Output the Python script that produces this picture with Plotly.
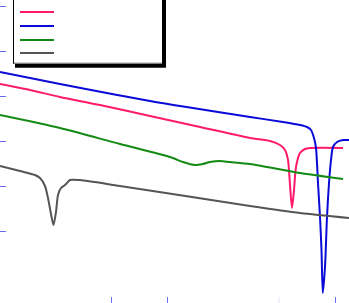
import plotly.graph_objects as go

# Data (x in plot units, y in plot units, up = higher)
pink_x = [0, 30, 60, 100, 150, 200, 250, 270, 280, 285, 288, 290, 292, 294, 296, 300, 305, 310, 343]
pink_y = [219, 213, 206, 198, 187, 176, 165, 162, 158, 153, 143, 118, 95, 113, 136, 150, 154, 155, 155]

blue_x = [0, 60, 150, 250, 283, 300, 307, 311, 314, 316, 318, 320, 321.5, 322.8, 325, 327, 329, 331, 333, 337, 343, 349]
blue_y = [231, 219, 202, 186, 181, 178, 176, 173, 165, 155, 120, 86, 53, 10, 36, 86, 120, 143, 156, 161, 163, 163]

green_x = [0, 60, 120, 170, 183, 195, 203, 210, 220, 230, 250, 300, 343]
green_y = [188, 175, 159, 146, 141, 138, 139, 141, 142, 141, 139, 130, 124]

gray_x = [0, 20, 35, 40, 45, 48, 51, 53.5, 56, 58, 61, 65, 70, 80, 120, 250, 300, 349]
gray_y = [137, 132, 128, 125, 117, 105, 89, 78, 91, 108, 115, 118, 123, 123, 117, 97, 90, 85]

x_ticks = [111, 167, 335]
x_faint_tick = 279
y_ticks = [297, 252, 207, 162, 117, 72]

series = [
    ("pink", pink_x, pink_y, "#ff1a6c"),
    ("blue", blue_x, blue_y, "#0a0ad8"),
    ("green", green_x, green_y, "#138a13"),
    ("gray", gray_x, gray_y, "#555555"),
]

fig = go.Figure()
for name, xs, ys, col in series:
    fig.add_trace(go.Scatter(x=xs, y=ys, mode="lines", name=name,
                             line=dict(color=col, width=2, shape="spline", smoothing=0.7),
                             showlegend=False))

tick_col = "#6b6bea"
shapes = []
# faint tick
shapes.append(dict(type="line", xref="x", yref="y", x0=x_faint_tick, x1=x_faint_tick, y0=0, y1=6,
                   line=dict(color="#e2e2f6", width=1)))
# legend shadow
shapes.append(dict(type="rect", xref="x", yref="y", x0=15, x1=166, y0=235.3, y1=320,
                   fillcolor="black", line=dict(width=0)))
# legend box
shapes.append(dict(type="rect", xref="x", yref="y", x0=13.5, x1=162.5, y0=239.5, y1=320,
                   fillcolor="white", line=dict(color="black", width=1)))
shapes.append(dict(type="line", xref="x", yref="y", x0=14, x1=162, y0=239.8, y1=239.8,
                   line=dict(color="#aaaaaa", width=1.2)))
leg_y = [291, 277, 263, 250]
for (name, xs, ys, col), ly in zip(series, leg_y):
    shapes.append(dict(type="line", xref="x", yref="y", x0=20, x1=54, y0=ly, y1=ly,
                       line=dict(color=col, width=2)))

fig.update_layout(
    width=349, height=303, autosize=False,
    margin=dict(l=0, r=0, t=0, b=0, pad=0),
    paper_bgcolor="white", plot_bgcolor="white",
    showlegend=False,
    shapes=shapes,
    xaxis=dict(range=[0, 349], showgrid=False, zeroline=False, showline=False,
               ticks="inside", ticklen=6, tickwidth=1, tickcolor=tick_col,
               tickvals=x_ticks, showticklabels=False),
    yaxis=dict(range=[0, 303], showgrid=False, zeroline=False, showline=False,
               ticks="inside", ticklen=6, tickwidth=1, tickcolor=tick_col,
               tickvals=y_ticks, showticklabels=False),
)

fig.write_html("out.html")
